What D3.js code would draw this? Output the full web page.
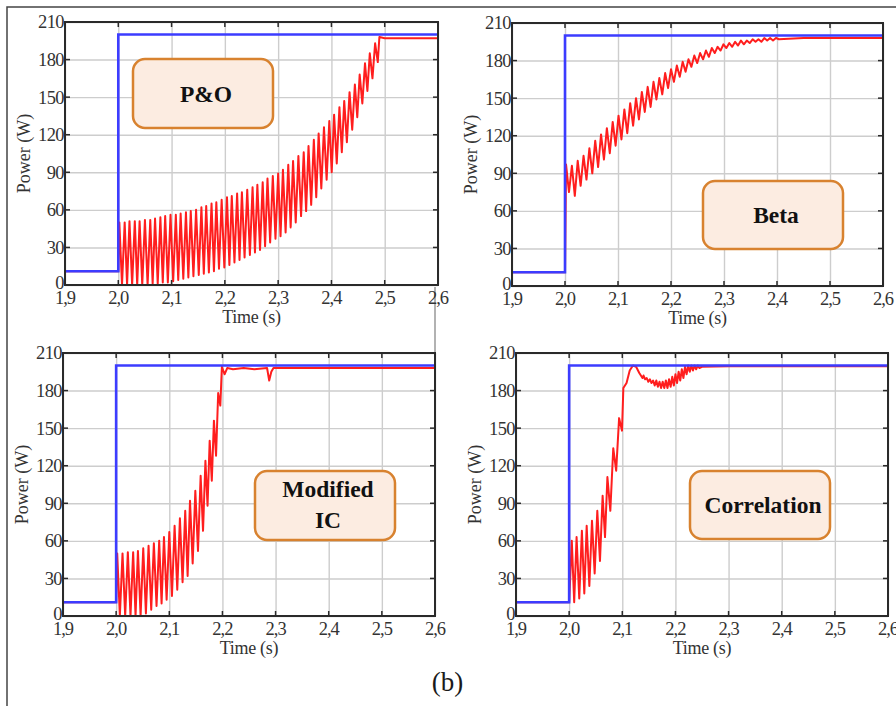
<!DOCTYPE html>
<html>
<head>
<meta charset="utf-8">
<script src="https://cdn.jsdelivr.net/npm/d3@7"></script>
<style>
  body { margin: 0; background: #fff; }
  svg { display: block; }
</style>
</head>
<body>
<div id="chart"></div>
<script>
// axis ticks
var timeTicks = [1.9, 2.0, 2.1, 2.2, 2.3, 2.4, 2.5, 2.6];
var timeLabels = ["1,9", "2,0", "2,1", "2,2", "2,3", "2,4", "2,5", "2,6"];
var powerTicks = [0, 30, 60, 90, 120, 150, 180, 210];

// blue reference (available power)
var refTime = [1.9, 2.0, 2.0, 2.6];
var refPower = [11, 11, 200, 200];

// red traces: [time, peak, trough] per oscillation cycle, plus plain [time, power] parts
var preStep = [[1.9, 11], [2.0, 11]];

var poCycles = [
  [2.002,50,0],[2.012,50,0],[2.021,51,0],[2.031,51,0],[2.040,51,0],[2.050,52,0],[2.060,52,1],[2.069,53,1],[2.079,54,2],[2.088,55,2],
  [2.098,56,3],[2.108,56,4],[2.117,57,5],[2.127,58,6],[2.136,59,7],[2.146,60,8],[2.156,62,9],[2.165,63,10],[2.175,65,11],[2.184,66,13],
  [2.194,68,14],[2.204,70,16],[2.213,71,18],[2.223,73,20],[2.232,74,22],[2.242,76,24],[2.252,78,26],[2.261,80,28],[2.271,82,31],[2.280,85,34],
  [2.290,87,37],[2.300,89,39],[2.309,92,42],[2.319,96,46],[2.328,99,50],[2.338,103,55],[2.348,106,59],[2.357,111,64],[2.367,116,70],[2.376,121,77],
  [2.386,126,84],[2.396,131,90],[2.405,136,97],[2.415,142,106],[2.424,147,114],[2.434,154,124],[2.444,160,134],[2.453,168,145],[2.463,177,155],[2.472,185,165],
  [2.482,193,178]
];
var poTail = [[2.490,198],[2.500,197],[2.600,197]];

var betaCycles = [
  [2.002,97,75],[2.013,96,72],[2.024,100,80],[2.035,104,85],[2.046,110,90],[2.057,116,95],[2.068,121,101],[2.079,126,106],[2.090,131,112],[2.101,136,117],
  [2.112,141,122],[2.123,146,128],[2.134,150,133],[2.145,155,139],[2.156,159,143],[2.167,163,149],[2.178,166,153],[2.189,170,158],[2.200,173,163],[2.211,176,167],
  [2.222,179,171],[2.233,181,175],[2.244,184,178],[2.255,186,181],[2.266,188,183],[2.277,190,186],[2.288,191,188],[2.299,193,190],[2.310,194,191],[2.321,195,192],
  [2.332,196,193],[2.343,196,194],[2.354,197,195],[2.365,197,195],[2.376,198,196],[2.387,198,196],[2.398,198,197]
];
var betaTail = [[2.45,198],[2.6,198]];

var micCycles = [
  [2.002,50,0],[2.012,50,0],[2.022,51,0],[2.032,51,0],[2.041,52,0],[2.051,54,2],[2.061,56,5],[2.071,58,8],[2.081,60,10],[2.090,63,13],
  [2.100,67,16],[2.110,72,21],[2.120,78,27],[2.130,84,32],[2.139,92,42],[2.149,100,52],[2.159,112,68],[2.168,124,88],[2.176,140,108],[2.184,156,128],
  [2.192,178,168]
];
var micTail = [[2.199,199],[2.204,193],[2.209,198],[2.22,197],[2.24,198],[2.26,197],[2.284,198],[2.288,188],[2.292,195],[2.296,198],[2.6,198]];

var corrCycles = [
  [2.005,60,11],[2.014,63,14],[2.024,68,18],[2.033,72,24],[2.043,76,34],[2.053,84,44],[2.063,96,63],[2.072,111,84],[2.083,134,116],[2.094,158,148]
];
var corrRise = [[2.102,182],[2.108,186],[2.114,196],[2.120,200],[2.126,199],[2.132,194],[2.138,190]];
var corrRipple = [
  [2.140,192,189],[2.146,190,187],[2.152,189,186],[2.158,188,184],[2.164,188,183],[2.170,187,182],[2.176,187,182],[2.182,188,182],[2.188,189,183],
  [2.194,191,184],[2.200,193,186],[2.206,195,188],[2.212,197,190],[2.218,199,193],[2.224,200,195],[2.230,200,196],[2.236,200,197],[2.242,200,198]
];
var corrEnd = [[2.25,199],[2.3,199.5],[2.6,199.5]];

// turn cycle rows into a zigzag
function zig(rows) {
  var pts = [];
  rows.forEach(function (r, i) {
    var tn = i < rows.length - 1 ? rows[i + 1][0] : r[0] + (r[0] - rows[i - 1][0]);
    pts.push([r[0], r[1]]);
    pts.push([(r[0] + tn) / 2, r[2]]);
  });
  return pts;
}

var panels = [
  { x: 65, y: 22, w: 373, h: 263, box: [133, 59, 140, 69], text: ["P&O"],
    red: preStep.concat(zig(poCycles), poTail) },
  { x: 512, y: 23, w: 371, h: 263, box: [703, 181, 140, 68], text: ["Beta"],
    red: preStep.concat(zig(betaCycles), betaTail) },
  { x: 63, y: 353, w: 372, h: 263, box: [255, 471, 140, 69], text: ["Modified", "IC"],
    red: preStep.concat(zig(micCycles), micTail) },
  { x: 516, y: 353, w: 372, h: 263, box: [690, 471, 140, 68], text: ["Correlation"],
    red: preStep.concat(zig(corrCycles), corrRise, zig(corrRipple), corrEnd) }
];

var W = 896, H = 706;
var serif = "'Liberation Serif', 'Times New Roman', serif";

var svg = d3.select("#chart").append("svg")
  .attr("width", W).attr("height", H);

// outer frame (left + top) and the little divider
svg.append("path")
  .attr("d", "M7," + H + "V7H" + W)
  .attr("fill", "none").attr("stroke", "#444").attr("stroke-width", 1.5);
svg.append("line")
  .attr("x1", 435).attr("x2", 435).attr("y1", 287).attr("y2", 353)
  .attr("stroke", "#999").attr("stroke-width", 1.5);

panels.forEach(function (p, pi) {
  var xScale = d3.scaleLinear().domain([1.9, 2.6]).range([0, p.w]);
  var yScale = d3.scaleLinear().domain([0, 210]).range([p.h, 0]);

  var g = svg.append("g").attr("transform", "translate(" + p.x + "," + p.y + ")");

  g.append("defs").append("clipPath").attr("id", "clip" + pi)
    .append("rect").attr("width", p.w).attr("height", p.h);

  // grid
  g.append("g").call(d3.axisBottom(xScale).tickValues(timeTicks).tickSize(p.h).tickFormat(""))
    .call(function (a) { a.select(".domain").remove(); })
    .selectAll("line").attr("stroke", "#cdcdcd").attr("stroke-width", 1.4);
  g.append("g").call(d3.axisRight(yScale).tickValues(powerTicks).tickSize(p.w).tickFormat(""))
    .call(function (a) { a.select(".domain").remove(); })
    .selectAll("line").attr("stroke", "#cdcdcd").attr("stroke-width", 1.4);

  // traces
  var line = d3.line()
    .x(function (d) { return xScale(d[0]); })
    .y(function (d) { return yScale(d[1]); });

  var plot = g.append("g").attr("clip-path", "url(#clip" + pi + ")");
  plot.append("path").datum(p.red)
    .attr("d", line).attr("fill", "none")
    .attr("stroke", "#ff1e1e").attr("stroke-width", 2).attr("stroke-linejoin", "round");
  plot.append("path").datum(d3.zip(refTime, refPower))
    .attr("d", line).attr("fill", "none")
    .attr("stroke", "#3c3cff").attr("stroke-width", 2.6);

  // frame with inner ticks
  g.append("rect").attr("width", p.w).attr("height", p.h)
    .attr("fill", "none").attr("stroke", "#2a2a2a").attr("stroke-width", 2);
  var tickCol = "#2a2a2a";
  timeTicks.forEach(function (t) {
    g.append("line").attr("x1", xScale(t)).attr("x2", xScale(t)).attr("y1", 0).attr("y2", 5)
      .attr("stroke", tickCol).attr("stroke-width", 1.5);
    g.append("line").attr("x1", xScale(t)).attr("x2", xScale(t)).attr("y1", p.h).attr("y2", p.h - 5)
      .attr("stroke", tickCol).attr("stroke-width", 1.5);
  });
  powerTicks.forEach(function (v) {
    g.append("line").attr("x1", 0).attr("x2", 5).attr("y1", yScale(v)).attr("y2", yScale(v))
      .attr("stroke", tickCol).attr("stroke-width", 1.5);
    g.append("line").attr("x1", p.w).attr("x2", p.w - 5).attr("y1", yScale(v)).attr("y2", yScale(v))
      .attr("stroke", tickCol).attr("stroke-width", 1.5);
  });

  // tick labels
  g.selectAll(".xl").data(timeTicks).enter().append("text")
    .attr("x", function (d) { return xScale(d); })
    .attr("y", p.h + 19)
    .attr("text-anchor", "middle")
    .style("font-family", serif).style("font-size", "18.5px").style("letter-spacing", "-1px")
    .style("fill", "#333")
    .text(function (d, i) { return timeLabels[i]; });
  g.selectAll(".yl").data(powerTicks).enter().append("text")
    .attr("x", -1)
    .attr("y", function (d) { return yScale(d) - (d === 0 ? 2 : 0); })
    .attr("dy", "0.35em")
    .attr("text-anchor", "end")
    .style("font-family", serif).style("font-size", "18.5px").style("letter-spacing", "-0.6px")
    .style("fill", "#333")
    .text(function (d) { return d; });

  // axis titles
  g.append("text")
    .attr("x", p.w / 2).attr("y", p.h + 38)
    .attr("text-anchor", "middle")
    .style("font-family", serif).style("font-size", "18px").style("letter-spacing", "-0.3px")
    .style("fill", "#333")
    .text("Time (s)");
  g.append("text")
    .attr("transform", "rotate(-90)")
    .attr("x", -p.h / 2).attr("y", -35)
    .attr("text-anchor", "middle")
    .style("font-family", serif).style("font-size", "18px")
    .style("fill", "#333")
    .text("Power (W)");

  // method label box
  var b = p.box;
  svg.append("rect")
    .attr("x", b[0]).attr("y", b[1]).attr("width", b[2]).attr("height", b[3])
    .attr("rx", 12).attr("ry", 12)
    .attr("fill", "#fcece1").attr("stroke", "#d8822f").attr("stroke-width", 2.5);
  var cx = b[0] + b[2] / 2 + 3, cy = b[1] + b[3] / 2;
  p.text.forEach(function (s, i) {
    var yy = p.text.length === 1 ? cy + 8 : cy - 9 + i * 31.5;
    svg.append("text")
      .attr("x", cx).attr("y", yy)
      .attr("text-anchor", "middle")
      .style("font-family", serif).style("font-size", "23.5px").style("font-weight", "bold")
      .style("fill", "#111")
      .text(s);
  });
});

svg.append("text")
  .attr("x", 447.5).attr("y", 691)
  .attr("text-anchor", "middle")
  .style("font-family", serif).style("font-size", "27px")
  .style("fill", "#1a1a1a")
  .text("(b)");
</script>
</body>
</html>
